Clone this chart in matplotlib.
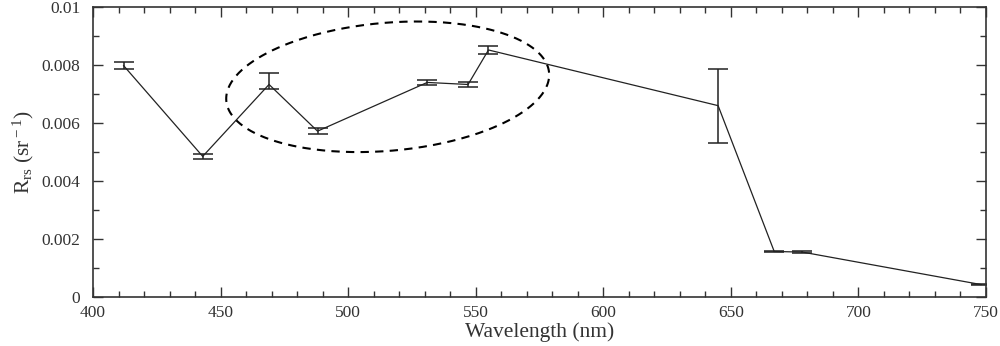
import numpy as np
import matplotlib.pyplot as plt
from matplotlib.ticker import MultipleLocator, FixedFormatter, FixedLocator

plt.rcParams['font.family'] = ['Liberation Serif', 'DejaVu Serif']
plt.rcParams['mathtext.fontset'] = 'custom'
plt.rcParams['mathtext.rm'] = 'Liberation Serif'
plt.rcParams['mathtext.it'] = 'Liberation Serif'

# data
wavelength = [412, 443, 469, 488, 531, 547, 555, 645, 667, 678, 748]
rrs = [0.00798, 0.00485, 0.00733, 0.00572, 0.00740, 0.00733, 0.00852, 0.00660, 0.00157, 0.00155, 0.00043]
err_low = [0.00011, 0.00009, 0.00016, 0.00010, 0.00010, 0.00010, 0.00014, 0.00128, 0.00002, 0.00002, 0.00001]
err_high = [0.00011, 0.00009, 0.00038, 0.00010, 0.00010, 0.00010, 0.00014, 0.00126, 0.00002, 0.00002, 0.00001]

xticks = [400, 450, 500, 550, 600, 650, 700, 750]
yticks = [0, 0.002, 0.004, 0.006, 0.008, 0.01]
ytick_labels = ['0', '0.002', '0.004', '0.006', '0.008', '0.01']

# dashed ellipse round the blue-green bands (centre in data units, axes in pixels)
ell_cx, ell_cy = 515.5, 0.00725
ell_a_px, ell_b_px, ell_tilt = 162, 64, 5.0

fig = plt.figure(figsize=(10, 3.46), dpi=100)
ax = fig.add_axes([0.093, 0.1416, 0.893, 0.838])

ax.errorbar(wavelength, rrs, yerr=[err_low, err_high], color='#222222', lw=0.9,
            elinewidth=1.1, capsize=7, capthick=1.1)

# ellipse drawn in pixel space then mapped to data
px_per_nm = 893 / 350
px_per_unit = 290 / 0.01
t = np.linspace(0, 2 * np.pi, 400)
phi = np.deg2rad(ell_tilt)
ex = ell_a_px * np.cos(t) * np.cos(phi) - ell_b_px * np.sin(t) * np.sin(phi)
ey = ell_a_px * np.cos(t) * np.sin(phi) + ell_b_px * np.sin(t) * np.cos(phi)
ax.plot(ell_cx + ex / px_per_nm, ell_cy + ey / px_per_unit, color='black',
        lw=1.5, ls=(0, (4, 3)))

ax.set_xlim(400, 750)
ax.set_ylim(0, 0.01)
ax.set_xticks(xticks)
ax.xaxis.set_minor_locator(MultipleLocator(10))
ax.yaxis.set_major_locator(FixedLocator(yticks))
ax.yaxis.set_major_formatter(FixedFormatter(ytick_labels))
ax.yaxis.set_minor_locator(MultipleLocator(0.001))
ax.tick_params(which='both', direction='in', top=True, right=True,
               labelsize=12.5, colors='#333333', width=1)
ax.tick_params(axis='x', which='major', pad=6)
ax.tick_params(axis='y', which='major', pad=9)
ax.tick_params(which='major', length=7)
ax.tick_params(which='minor', length=4)
for sp in ax.spines.values():
    sp.set_linewidth(1.2)
    sp.set_color('#333333')

ax.set_xlabel('Wavelength (nm)', fontsize=15.5, color='#333333', labelpad=1)
ax.set_ylabel(r'R$_{\rm rs}$ (sr$^{\rm -1}$)', fontsize=15.5, color='#333333', labelpad=4)

fig.savefig('out.png', dpi=100)
